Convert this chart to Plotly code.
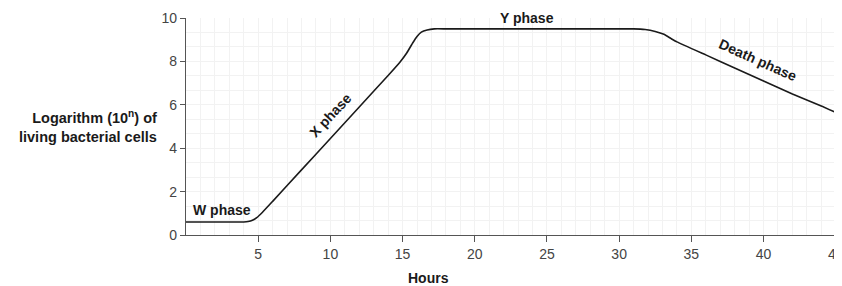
import plotly.graph_objects as go

hours = [0, 4.0, 4.3, 4.6, 4.9, 5.3, 6, 8, 10, 12, 14, 14.8, 15.3, 15.7, 16.0, 16.3, 16.7, 17.2, 18, 20, 25, 30, 31.0, 31.8, 32.5, 33.1, 33.6, 34, 36, 38, 40, 42, 44, 45]
log_cells = [0.6, 0.6, 0.62, 0.68, 0.8, 1.05, 1.55, 3.0, 4.45, 5.9, 7.35, 7.95, 8.4, 8.85, 9.15, 9.35, 9.45, 9.5, 9.5, 9.5, 9.5, 9.5, 9.5, 9.47, 9.38, 9.25, 9.05, 8.9, 8.3, 7.7, 7.1, 6.5, 5.95, 5.65]
x_ticks = [5, 10, 15, 20, 25, 30, 35, 40, 45]
y_ticks = [0, 2, 4, 6, 8, 10]

phase_labels = ["W phase", "X phase", "Y phase", "Death phase"]
label_x = [2.5, 10.0, 23.6, 39.6]
label_y = [1.15, 5.55, 10.0, 8.05]
label_angle = [0, -47, 0, 24]

FONT = "Liberation Sans, Arial"

fig = go.Figure()
fig.add_trace(go.Scatter(x=hours, y=log_cells, mode="lines",
                         line=dict(color="#1a1a1a", width=1.6, shape="spline", smoothing=0.3),
                         hoverinfo="skip", showlegend=False, cliponaxis=False))

for t, x, y, a in zip(phase_labels, label_x, label_y, label_angle):
    fig.add_annotation(x=x, y=y, text=f"<b>{t}</b>", showarrow=False, textangle=a,
                       font=dict(family=FONT, size=14, color="#1a1a1a"))

fig.add_annotation(xref="paper", yref="y", x=-0.042, y=5.0, xanchor="right", yanchor="middle",
                   text="<b>Logarithm (10<sup>n</sup>) of<br>living bacterial cells</b>", align="right",
                   showarrow=False, font=dict(family=FONT, size=14.5, color="#1a1a1a"))

fig.add_annotation(x=16.8, yref="paper", y=0, yanchor="top", yshift=-33, text="<b>Hours</b>",
                   showarrow=False, font=dict(family=FONT, size=14, color="#1a1a1a"))

fig.update_xaxes(range=[0, 45.02], tickvals=x_ticks, ticks="outside", ticklen=6, tickcolor="#555",
                 showline=True, linecolor="#555", linewidth=1.2, showgrid=False, zeroline=False,
                 automargin=False, ticklabeloverflow="allow",
                 tickfont=dict(family=FONT, size=14, color="#444"),
                 minor=dict(dtick=1, showgrid=True, gridcolor="#f2f2f2", gridwidth=1))
fig.update_yaxes(range=[0, 10], tickvals=y_ticks, ticks="outside", ticklen=5, tickcolor="#555",
                 showline=True, linecolor="#555", linewidth=1.2, showgrid=False, zeroline=False,
                 automargin=False,
                 tickfont=dict(family=FONT, size=14, color="#444"),
                 minor=dict(tick0=0, dtick=0.6667, showgrid=True, gridcolor="#f2f2f2", gridwidth=1))

fig.update_layout(width=842, height=278, margin=dict(l=178, r=14, t=10, b=51),
                  plot_bgcolor="white", paper_bgcolor="white")
fig.write_html("out.html")
